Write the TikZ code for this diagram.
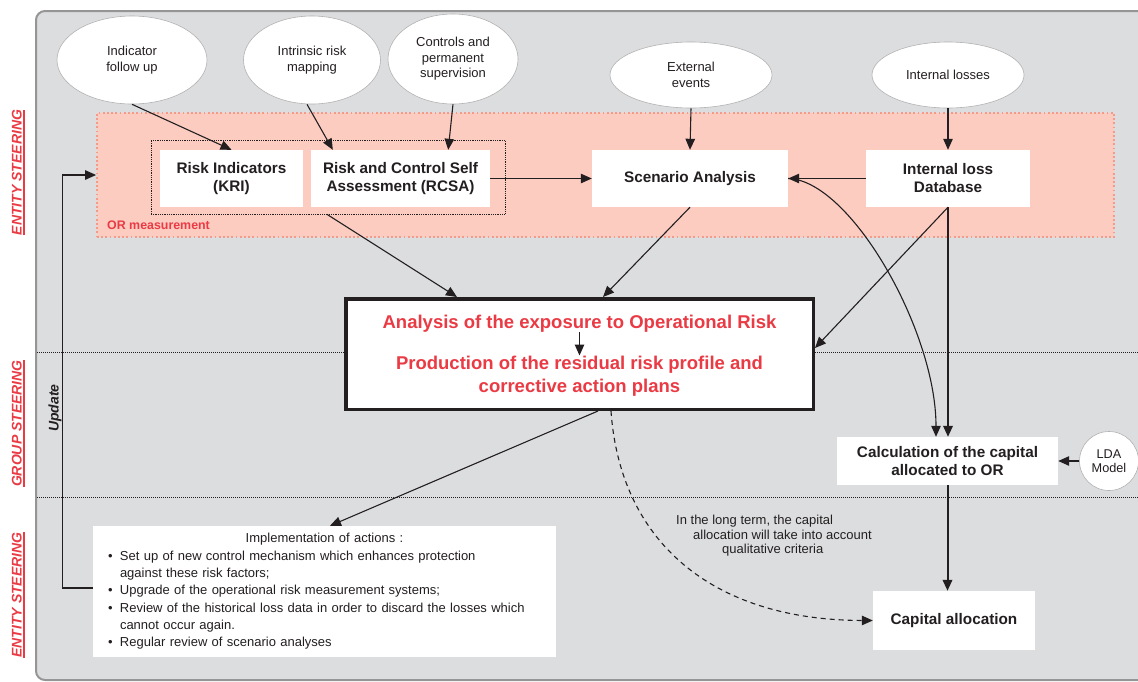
\documentclass[tikz,border=0pt]{standalone}
\usepackage{fontspec}
\setmainfont{Liberation Sans}
\usepackage{tikz}
\usetikzlibrary{positioning}
\usetikzlibrary{arrows.meta}
\usetikzlibrary{shapes.geometric}

\definecolor{panelgray}{HTML}{DCDDDF}
\definecolor{panelline}{HTML}{959595}
\definecolor{ormfill}{HTML}{FCCCC1}
\definecolor{ormline}{HTML}{F59A89}
\definecolor{orred}{HTML}{EA3A44}
\definecolor{ink}{HTML}{231F20}

\newcommand\sidemark[1]{\setbox0\hbox{#1}\rlap{\rule[-3.3pt]{\wd0}{1.7pt}}\box0}
\newcommand\itemdot{\makebox[13pt][l]{\hspace{1pt}\textbullet}}

\begin{document}
\begin{tikzpicture}[x=1pt, y=-1pt, >={Triangle[length=11pt,width=9.5pt]},
	link/.style={->, draw=ink, line width=1.1pt},
	heavy link/.style={link, line width=2pt},
	divider/.style={draw=ink, line width=0.8pt, dash pattern=on 0.8pt off 1.2pt},
	cloud node/.style={ellipse, draw=gray!60, line width=0.6pt, fill=white, inner sep=0pt, align=center, text=ink, font=\fontsize{13}{15.5}\selectfont},
	box node/.style={rectangle, fill=white, inner sep=0pt, align=center, text=ink, font=\fontsize{15.3}{18}\selectfont\bfseries},
	red node/.style={inner sep=0pt, align=center, text=orred, font=\fontsize{18.5}{23}\selectfont\bfseries},
	side node/.style={rotate=90, inner sep=0pt, text=orred, font=\fontsize{14}{16}\selectfont\bfseries\itshape},
	text node/.style={inner sep=0pt, text=ink, font=\fontsize{13}{14.5}\selectfont}]
	\useasboundingbox (0,0) rectangle (1138,681);
	\draw[draw=panelline, fill=panelgray, line width=2pt, rounded corners=9pt] (36,11) rectangle (1170,680);
	\draw[divider] (37,352) -- (1138,352);
	\draw[divider] (37,497) -- (1138,497);
	\node[side node] (top) at (18.4,172.5) {\sidemark{ENTITY STEERING}};
	\node[side node] (mid) at (18.4,423.5) {\sidemark{GROUP STEERING}};
	\node[side node] (bot) at (18.4,595) {\sidemark{ENTITY STEERING}};

	\node[rectangle, draw=ormline, fill=ormfill, line width=1.8pt, dash pattern=on 1.8pt off 2.4pt,
		minimum width=1017pt, minimum height=124pt] (ormeas) at (605.5,175) {};
	\node[anchor=west, inner sep=0pt, text=orred, font=\fontsize{12.4}{14}\selectfont\bfseries] (ormlabel) at (107,225.5) {OR measurement};
	\node[rectangle, draw=ink, line width=0.7pt, dash pattern=on 0.7pt off 1.1pt,
		minimum width=354pt, minimum height=74pt] (grp) at (328,177) {};

	\node[box node, minimum width=143pt, minimum height=57pt] (kri) at (231.5,178.5) {Risk Indicators\\(KRI)};
	\node[box node, minimum width=179pt, minimum height=57pt] (rcsa) at (400.5,178.5) {Risk and Control Self\\Assessment (RCSA)};
	\node[box node, minimum width=196pt, minimum height=57pt] (scen) at (690,178.5) {Scenario Analysis};
	\node[box node, minimum width=164pt, minimum height=57pt] (ild) at (948,178.5) {Internal loss\\Database};

	\node[cloud node, minimum width=150pt, minimum height=88pt] (ind) at (132,60) {Indicator\\follow up};
	\node[cloud node, minimum width=137pt, minimum height=88pt] (irm) at (312,60) {Intrinsic risk\\mapping};
	\node[cloud node, minimum width=130pt, minimum height=90pt] (ctl) at (453,59) {Controls and\\permanent\\supervision};
	\node[cloud node, minimum width=162pt, minimum height=66pt] (ext) at (691,75) {External\\events};
	\node[cloud node, minimum width=152pt, minimum height=66pt] (intl) at (948,75) {Internal losses};

	\node[rectangle, draw=ink, fill=white, line width=3.5pt, minimum width=467.5pt, minimum height=110.5pt] (main) at (579.5,354) {};
	\node[red node, anchor=base] (expo) at (579.5,328) {Analysis of the exposure to Operational Risk};
	\node[red node, anchor=north] (prof) at (579.5,355.5) {Production of the residual risk profile and\\corrective action plans};

	\node[box node, minimum width=221pt, minimum height=48pt] (calc) at (947.5,461) {Calculation of the capital\\allocated to OR};
	\node[cloud node, circle, minimum size=59pt, font=\fontsize{12.7}{14}\selectfont] (lda) at (1109,461) {LDA\\Model};
	\node[box node, minimum width=162pt, minimum height=59pt] (cap) at (954,620.5) {Capital allocation};

	\node[rectangle, fill=white, inner sep=0pt, text=ink, text width=435pt, align=left,
		minimum width=463pt, minimum height=131pt, font=\fontsize{13}{17.33}\selectfont] (impl) at (324.5,591.5)
		{\makebox[435pt][c]{Implementation of actions :}\\
		\itemdot Set up of new control mechanism which enhances protection\\
		\hspace*{13pt}against these risk factors;\\
		\itemdot Upgrade of the operational risk measurement systems;\\
		\itemdot Review of the historical loss data in order to discard the losses which\\
		\hspace*{13pt}cannot occur again.\\
		\itemdot Regular review of scenario analyses};

	\node[text node, align=left, anchor=north west] (note) at (676,515)
		{In the long term, the capital\\\hspace*{17pt}allocation will take into account\\\hspace*{46pt}qualitative criteria};
	\node[text node, rotate=90, font=\fontsize{14}{16}\selectfont\bfseries\itshape] (upd) at (55,408) {Update};

	\draw[link] (ind.south) -- (kri.north);
	\draw[link] ([xshift=-5pt]irm.south) -- ([xshift=22pt]rcsa.north west);
	\draw[link] (ctl.south) -- ([xshift=-42pt]rcsa.north east);
	\draw[link] (ext.south) -- (scen.north);
	\draw[link] (intl.south) -- (ild.north);
	\draw[link] (rcsa.east) -- (scen.west);
	\draw[link] (ild.west) -- (scen.east);
	\draw[link] (scen.east) .. controls (850,180) and (936,330) .. ([xshift=-11.5pt]calc.north);
	\draw[heavy link] (ild.south) -- (ild.south |- calc.north);
	\draw[link] (ild.south) -- ([yshift=6pt]main.east);
	\draw[link] (scen.south) -- ([xshift=23.5pt]main.north);
	\draw[link] ([xshift=-1pt]grp.south) -- ([xshift=-122.5pt]main.north);
	\draw[link, line width=1pt] (expo) -- (prof);
	\draw[link] ([xshift=18.5pt]main.south) -- ([xshift=5.5pt]impl.north);
	\draw[link, dash pattern=on 5pt off 4pt] ([xshift=31.5pt]main.south) .. controls (620,540) and (710,620) .. (cap.west);
	\draw[heavy link] (calc.south) -- (calc.south |- cap.north);
	\draw[link] (lda.west) -- (calc.east);
	\draw[link] ([yshift=3.5pt]impl.west) -- ++(-30,0) |- (ormeas.west);
\end{tikzpicture}
\end{document}
